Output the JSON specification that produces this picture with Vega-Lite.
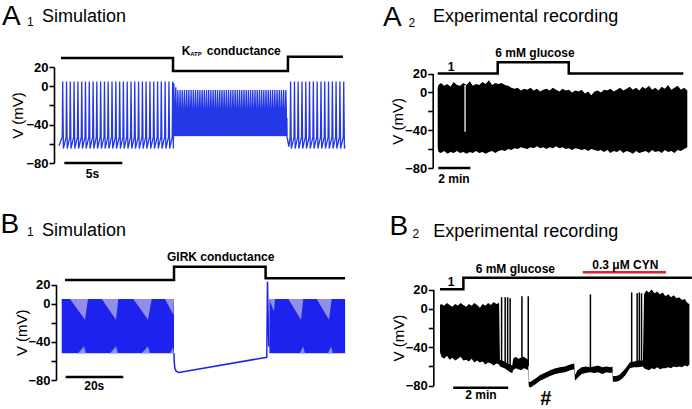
{
"$schema":"https://vega.github.io/schema/vega-lite/v6.json",
"padding":0,
"background":"white",
"spacing":0,
"bounds":"flush",
"columns":2,
"config":{"view":{"stroke":null},"font":"Liberation Sans","axis":{"domainColor":"#000","domainWidth":1.6,"tickColor":"#000","tickWidth":1.6,"tickSize":5,"labelFontSize":13,"labelFontWeight":"bold","labelColor":"#000","labelPadding":1,"titleFontSize":15,"titleFontWeight":"normal","titleColor":"#000","grid":false,"minExtent":24,"maxExtent":24}},
"datasets":{
"a1":[{"t":0,"v":-62},
{"t":0.28,"v":-53},{"t":0.32,"v":5},{"t":0.38,"v":-65},
{"t":0.61,"v":-53},{"t":0.65,"v":5},{"t":0.71,"v":-65},
{"t":0.93,"v":-53},{"t":0.97,"v":5},{"t":1.03,"v":-65},
{"t":1.26,"v":-53},{"t":1.30,"v":5},{"t":1.36,"v":-65},
{"t":1.59,"v":-53},{"t":1.63,"v":5},{"t":1.69,"v":-65},
{"t":1.92,"v":-53},{"t":1.96,"v":5},{"t":2.02,"v":-65},
{"t":2.24,"v":-53},{"t":2.28,"v":5},{"t":2.34,"v":-65},
{"t":2.57,"v":-53},{"t":2.61,"v":5},{"t":2.67,"v":-65},
{"t":2.90,"v":-53},{"t":2.94,"v":5},{"t":3.00,"v":-65},
{"t":3.22,"v":-53},{"t":3.26,"v":5},{"t":3.32,"v":-65},
{"t":3.55,"v":-53},{"t":3.59,"v":5},{"t":3.65,"v":-65},
{"t":3.88,"v":-53},{"t":3.92,"v":5},{"t":3.98,"v":-65},
{"t":4.20,"v":-53},{"t":4.24,"v":5},{"t":4.30,"v":-65},
{"t":4.53,"v":-53},{"t":4.57,"v":5},{"t":4.63,"v":-65},
{"t":4.86,"v":-53},{"t":4.90,"v":5},{"t":4.96,"v":-65},
{"t":5.19,"v":-53},{"t":5.23,"v":5},{"t":5.29,"v":-65},
{"t":5.51,"v":-53},{"t":5.55,"v":5},{"t":5.61,"v":-65},
{"t":5.84,"v":-53},{"t":5.88,"v":5},{"t":5.94,"v":-65},
{"t":6.17,"v":-53},{"t":6.21,"v":5},{"t":6.27,"v":-65},
{"t":6.49,"v":-53},{"t":6.53,"v":5},{"t":6.59,"v":-65},
{"t":6.82,"v":-53},{"t":6.86,"v":5},{"t":6.92,"v":-65},
{"t":7.15,"v":-53},{"t":7.19,"v":5},{"t":7.25,"v":-65},
{"t":7.47,"v":-53},{"t":7.51,"v":5},{"t":7.57,"v":-65},
{"t":7.80,"v":-53},{"t":7.84,"v":5},{"t":7.90,"v":-65},
{"t":8.13,"v":-53},{"t":8.17,"v":5},{"t":8.23,"v":-65},
{"t":8.46,"v":-53},{"t":8.50,"v":5},{"t":8.56,"v":-65},
{"t":8.78,"v":-53},{"t":8.82,"v":5},{"t":8.88,"v":-65},
{"t":9.11,"v":-53},{"t":9.15,"v":5},{"t":9.21,"v":-65},
{"t":9.44,"v":-53},{"t":9.48,"v":5},{"t":9.54,"v":-65},
{"t":9.76,"v":-53},{"t":9.80,"v":5},{"t":9.86,"v":-65},
{"t":9.90,"v":3},{"t":9.98,"v":-52},{"t":10.07,"v":-1},{"t":10.16,"v":-52},
{"t":10.25,"v":-4},{"t":10.34,"v":-52},{"t":10.44,"v":-4},{"t":10.53,"v":-52},{"t":10.63,"v":-4},{"t":10.72,"v":-52},{"t":10.82,"v":-4},{"t":10.91,"v":-52},{"t":11.01,"v":-4},{"t":11.10,"v":-52},{"t":11.20,"v":-4},{"t":11.29,"v":-52},{"t":11.39,"v":-4},{"t":11.48,"v":-52},{"t":11.58,"v":-4},{"t":11.67,"v":-52},{"t":11.77,"v":-4},{"t":11.86,"v":-52},{"t":11.96,"v":-4},{"t":12.05,"v":-52},{"t":12.15,"v":-4},{"t":12.24,"v":-52},{"t":12.34,"v":-4},{"t":12.43,"v":-52},{"t":12.53,"v":-4},{"t":12.62,"v":-52},{"t":12.72,"v":-4},{"t":12.81,"v":-52},{"t":12.91,"v":-4},{"t":13.00,"v":-52},{"t":13.10,"v":-4},{"t":13.19,"v":-52},{"t":13.29,"v":-4},{"t":13.38,"v":-52},{"t":13.48,"v":-4},{"t":13.57,"v":-52},{"t":13.67,"v":-4},{"t":13.76,"v":-52},{"t":13.86,"v":-4},{"t":13.95,"v":-52},{"t":14.05,"v":-4},{"t":14.14,"v":-52},{"t":14.24,"v":-4},{"t":14.33,"v":-52},{"t":14.43,"v":-4},{"t":14.52,"v":-52},{"t":14.62,"v":-4},{"t":14.71,"v":-52},{"t":14.81,"v":-4},{"t":14.90,"v":-52},{"t":15.00,"v":-4},{"t":15.09,"v":-52},{"t":15.19,"v":-4},{"t":15.28,"v":-52},{"t":15.38,"v":-4},{"t":15.47,"v":-52},{"t":15.57,"v":-4},{"t":15.66,"v":-52},{"t":15.76,"v":-4},{"t":15.85,"v":-52},{"t":15.95,"v":-4},{"t":16.04,"v":-52},{"t":16.14,"v":-4},{"t":16.23,"v":-52},{"t":16.33,"v":-4},{"t":16.42,"v":-52},{"t":16.52,"v":-4},{"t":16.61,"v":-52},{"t":16.71,"v":-4},{"t":16.80,"v":-52},{"t":16.90,"v":-4},{"t":16.99,"v":-52},{"t":17.09,"v":-4},{"t":17.18,"v":-52},{"t":17.28,"v":-4},{"t":17.37,"v":-52},{"t":17.47,"v":-4},{"t":17.56,"v":-52},{"t":17.66,"v":-4},{"t":17.75,"v":-52},{"t":17.85,"v":-4},{"t":17.94,"v":-52},{"t":18.04,"v":-4},{"t":18.13,"v":-52},{"t":18.23,"v":-4},{"t":18.32,"v":-52},{"t":18.42,"v":-4},{"t":18.51,"v":-52},{"t":18.61,"v":-4},{"t":18.70,"v":-52},{"t":18.80,"v":-4},{"t":18.89,"v":-52},{"t":18.99,"v":-4},{"t":19.08,"v":-52},{"t":19.18,"v":-4},{"t":19.27,"v":-52},{"t":19.37,"v":-4},{"t":19.46,"v":-52},{"t":19.56,"v":-4},{"t":19.65,"v":-52},
{"t":19.82,"v":-63},
{"t":19.93,"v":-53},{"t":19.97,"v":5},{"t":20.03,"v":-65},
{"t":20.26,"v":-53},{"t":20.30,"v":5},{"t":20.36,"v":-65},
{"t":20.58,"v":-53},{"t":20.62,"v":5},{"t":20.68,"v":-65},
{"t":20.91,"v":-53},{"t":20.95,"v":5},{"t":21.01,"v":-65},
{"t":21.24,"v":-53},{"t":21.28,"v":5},{"t":21.34,"v":-65},
{"t":21.56,"v":-53},{"t":21.60,"v":5},{"t":21.66,"v":-65},
{"t":21.89,"v":-53},{"t":21.93,"v":5},{"t":21.99,"v":-65},
{"t":22.22,"v":-53},{"t":22.26,"v":5},{"t":22.32,"v":-65},
{"t":22.55,"v":-53},{"t":22.59,"v":5},{"t":22.65,"v":-65},
{"t":22.87,"v":-53},{"t":22.91,"v":5},{"t":22.97,"v":-65},
{"t":23.20,"v":-53},{"t":23.24,"v":5},{"t":23.30,"v":-65},
{"t":23.53,"v":-53},{"t":23.57,"v":5},{"t":23.63,"v":-65},
{"t":23.85,"v":-53},{"t":23.89,"v":5},{"t":23.95,"v":-65},
{"t":24.18,"v":-53},{"t":24.22,"v":5},{"t":24.28,"v":-65},
{"t":24.51,"v":-53},{"t":24.55,"v":5},{"t":24.61,"v":-65},
{"t":24.66,"v":-62}],
"a2":[{"t":0.0,"v":5,"lo":-58},{"t":0.05,"v":8,"lo":-63},{"t":0.2,"v":10,"lo":-64},{"t":0.4,"v":7,"lo":-62},{"t":0.6,"v":9,"lo":-65},{"t":0.8,"v":6,"lo":-63},{"t":1.0,"v":11,"lo":-64},{"t":1.2,"v":8,"lo":-62},{"t":1.4,"v":7,"lo":-64},{"t":1.6,"v":10,"lo":-63},{"t":1.8,"v":8,"lo":-65},{"t":2.0,"v":12,"lo":-63},{"t":2.2,"v":7,"lo":-64},{"t":2.4,"v":9,"lo":-62},{"t":2.6,"v":8,"lo":-64},{"t":2.8,"v":11,"lo":-63},{"t":3.0,"v":9,"lo":-65},{"t":3.2,"v":13,"lo":-63},{"t":3.4,"v":8,"lo":-62},{"t":3.6,"v":10,"lo":-64},{"t":3.8,"v":9,"lo":-62},{"t":4.0,"v":10,"lo":-61},{"t":4.2,"v":8,"lo":-62},{"t":4.4,"v":7,"lo":-60},{"t":4.6,"v":5,"lo":-61},{"t":4.8,"v":4,"lo":-59},{"t":5.0,"v":5,"lo":-60},{"t":5.2,"v":2,"lo":-58},{"t":5.4,"v":4,"lo":-59},{"t":5.6,"v":3,"lo":-60},{"t":5.8,"v":5,"lo":-58},{"t":6.0,"v":2,"lo":-59},{"t":6.2,"v":4,"lo":-57},{"t":6.4,"v":1,"lo":-59},{"t":6.6,"v":3,"lo":-58},{"t":6.8,"v":4,"lo":-60},{"t":7.0,"v":2,"lo":-58},{"t":7.2,"v":5,"lo":-59},{"t":7.4,"v":3,"lo":-57},{"t":7.6,"v":1,"lo":-59},{"t":7.8,"v":4,"lo":-58},{"t":8.0,"v":2,"lo":-60},{"t":8.2,"v":3,"lo":-59},{"t":8.4,"v":0,"lo":-61},{"t":8.6,"v":2,"lo":-59},{"t":8.8,"v":1,"lo":-60},{"t":9.0,"v":3,"lo":-61},{"t":9.2,"v":-1,"lo":-60},{"t":9.4,"v":1,"lo":-62},{"t":9.6,"v":-3,"lo":-60},{"t":9.8,"v":1,"lo":-61},{"t":10.0,"v":2,"lo":-62},{"t":10.2,"v":0,"lo":-61},{"t":10.4,"v":3,"lo":-63},{"t":10.6,"v":2,"lo":-61},{"t":10.8,"v":4,"lo":-64},{"t":11.0,"v":1,"lo":-62},{"t":11.2,"v":3,"lo":-63},{"t":11.4,"v":5,"lo":-61},{"t":11.6,"v":2,"lo":-64},{"t":11.8,"v":4,"lo":-62},{"t":12.0,"v":6,"lo":-63},{"t":12.2,"v":3,"lo":-65},{"t":12.4,"v":5,"lo":-62},{"t":12.6,"v":2,"lo":-64},{"t":12.8,"v":6,"lo":-63},{"t":13.0,"v":4,"lo":-62},{"t":13.2,"v":7,"lo":-64},{"t":13.4,"v":3,"lo":-61},{"t":13.6,"v":5,"lo":-63},{"t":13.8,"v":2,"lo":-62},{"t":14.0,"v":6,"lo":-64},{"t":14.2,"v":4,"lo":-61},{"t":14.4,"v":8,"lo":-63},{"t":14.6,"v":3,"lo":-62},{"t":14.8,"v":5,"lo":-64},{"t":15.0,"v":7,"lo":-61},{"t":15.2,"v":3,"lo":-62},{"t":15.4,"v":5,"lo":-60},{"t":15.6,"v":2,"lo":-58}],
"b2":[{"t":0,"v":4,"lo":-45},{"t":0.05,"v":5,"lo":-50},{"t":0.15,"v":3,"lo":-52},{"t":0.25,"v":6,"lo":-49},{"t":0.35,"v":4,"lo":-53},{"t":0.45,"v":2,"lo":-51},{"t":0.55,"v":5,"lo":-54},{"t":0.65,"v":3,"lo":-52},{"t":0.75,"v":6,"lo":-50},{"t":0.85,"v":4,"lo":-54},{"t":0.95,"v":2,"lo":-53},{"t":1.05,"v":5,"lo":-55},{"t":1.15,"v":3,"lo":-52},{"t":1.25,"v":6,"lo":-56},{"t":1.35,"v":4,"lo":-54},{"t":1.45,"v":1,"lo":-56},{"t":1.55,"v":5,"lo":-55},{"t":1.65,"v":3,"lo":-58},{"t":1.75,"v":6,"lo":-56},{"t":1.85,"v":4,"lo":-57},{"t":1.95,"v":7,"lo":-59},{"t":2.05,"v":5,"lo":-57},{"t":2.15,"v":6,"lo":-58},
{"t":2.18,"v":-53,"lo":-60},{"t":2.25,"v":-54,"lo":-61},{"t":2.35,"v":-55,"lo":-62},{"t":2.45,"v":-57,"lo":-64},{"t":2.55,"v":-58,"lo":-66},{"t":2.63,"v":-59,"lo":-67},{"t":2.66,"v":-52,"lo":-64},{"t":2.75,"v":-50,"lo":-62},{"t":2.85,"v":-52,"lo":-63},{"t":2.95,"v":-51,"lo":-64},{"t":3.05,"v":-50,"lo":-62},{"t":3.15,"v":-52,"lo":-63},{"t":3.2,"v":-53,"lo":-64},
{"t":3.23,"v":-76,"lo":-81},{"t":3.3,"v":-76,"lo":-82},{"t":3.4,"v":-74,"lo":-80},{"t":3.5,"v":-72,"lo":-78},{"t":3.64,"v":-69,"lo":-75},{"t":3.8,"v":-67,"lo":-73},{"t":4.0,"v":-64,"lo":-70},{"t":4.2,"v":-62,"lo":-68},{"t":4.36,"v":-61,"lo":-67},{"t":4.55,"v":-60,"lo":-66},{"t":4.73,"v":-58,"lo":-64},{"t":4.88,"v":-57,"lo":-63},
{"t":4.91,"v":-69,"lo":-75},{"t":5.0,"v":-64,"lo":-72},{"t":5.15,"v":-61,"lo":-68},{"t":5.3,"v":-60,"lo":-67},{"t":5.45,"v":-61,"lo":-66},{"t":5.6,"v":-60,"lo":-67},{"t":5.75,"v":-59,"lo":-66},{"t":5.9,"v":-61,"lo":-68},{"t":6.05,"v":-60,"lo":-66},{"t":6.2,"v":-61,"lo":-67},{"t":6.27,"v":-60,"lo":-66},
{"t":6.29,"v":-70,"lo":-76},{"t":6.4,"v":-70,"lo":-76},{"t":6.52,"v":-69,"lo":-75},{"t":6.62,"v":-66,"lo":-73},{"t":6.75,"v":-62,"lo":-69},{"t":6.9,"v":-56,"lo":-62},{"t":7.05,"v":-55,"lo":-61},{"t":7.2,"v":-54,"lo":-61},{"t":7.38,"v":-54,"lo":-60},
{"t":7.42,"v":15,"lo":-62},{"t":7.5,"v":19,"lo":-63},{"t":7.6,"v":17,"lo":-64},{"t":7.7,"v":20,"lo":-62},{"t":7.8,"v":16,"lo":-63},{"t":7.9,"v":18,"lo":-61},{"t":8.0,"v":15,"lo":-63},{"t":8.1,"v":17,"lo":-62},{"t":8.2,"v":13,"lo":-62},{"t":8.3,"v":15,"lo":-61},{"t":8.4,"v":12,"lo":-62},{"t":8.5,"v":14,"lo":-60},{"t":8.6,"v":11,"lo":-61},{"t":8.7,"v":12,"lo":-60},{"t":8.8,"v":9,"lo":-61},{"t":8.9,"v":10,"lo":-59},{"t":9.0,"v":6,"lo":-60},{"t":9.07,"v":5,"lo":-58}],
"b2spikes":[{"t":2.24,"v":12,"lo":-55},{"t":2.37,"v":12,"lo":-57},{"t":2.46,"v":12,"lo":-58},{"t":2.55,"v":11,"lo":-60},{"t":2.98,"v":13,"lo":-55},{"t":3.21,"v":13,"lo":-60},{"t":5.47,"v":15,"lo":-62},{"t":6.97,"v":17,"lo":-57},{"t":7.17,"v":16,"lo":-57},{"t":7.25,"v":17,"lo":-57},{"t":7.33,"v":16,"lo":-56}]
},
"concat":[
{"width":346,"height":200,
"encoding":{
"x":{"field":"t","type":"quantitative","scale":{"domain":[0,24.66],"range":[59,345],"nice":false,"zero":false},"axis":null},
"y":{"field":"v","type":"quantitative","scale":{"domain":[-80,20],"range":[163,67],"nice":false,"zero":false},"axis":{"title":"V (mV)","values":[20,0,-20,-40,-60,-80],"labelExpr":"datum.value == -20 || datum.value == -60 ? '' : datum.label","offset":-54,"titlePadding":5}}},
"layer":[
{"data":{"values":[{"t":9.9,"v":-33,"lo":-52},{"t":19.7,"v":-33,"lo":-52}]},"mark":{"type":"area","color":"#2a3ae6","opacity":1},"encoding":{"y2":{"field":"lo"}}},
{"data":{"name":"a1"},"mark":{"type":"line","color":"#2438e8","strokeWidth":1.3}},
{"data":{"values":[{"t":0.17,"v":29.4},{"t":9.83,"v":29.4},{"t":9.831,"v":15.8},{"t":19.74,"v":15.8},{"t":19.741,"v":30.6},{"t":24.48,"v":30.6}]},"mark":{"type":"line","color":"#000","strokeWidth":2.5}},
{"data":{"values":[{"t":0.46,"t2":5.46,"v":-80}]},"mark":{"type":"rule","color":"#000","strokeWidth":2.5},"encoding":{"x2":{"field":"t2"}}},
{"data":{"values":[{"t":-4.91,"v":63.3,"s":"A"}]},"mark":{"type":"text","align":"left","baseline":"alphabetic","fontSize":28,"color":"#000"},"encoding":{"text":{"field":"s"}}},
{"data":{"values":[{"t":-2.76,"v":62.2,"s":"1"}]},"mark":{"type":"text","align":"left","baseline":"alphabetic","fontSize":12,"color":"#000"},"encoding":{"text":{"field":"s"}}},
{"data":{"values":[{"t":-1.47,"v":67.2,"s":"Simulation"}]},"mark":{"type":"text","align":"left","baseline":"alphabetic","fontSize":18,"color":"#000"},"encoding":{"text":{"field":"s"}}},
{"data":{"values":[{"t":10.95,"v":32.5,"s":"K"},{"t":15.93,"v":32.5,"s":"conductance"},{"t":2.89,"v":-95.6,"s":"5s"}]},"mark":{"type":"text","align":"center","baseline":"alphabetic","fontSize":12,"fontWeight":"bold","color":"#000"},"encoding":{"text":{"field":"s"}}},
{"data":{"values":[{"t":11.81,"v":31.9,"s":"ATP"}]},"mark":{"type":"text","align":"center","baseline":"alphabetic","fontSize":6,"fontWeight":"bold","color":"#000"},"encoding":{"text":{"field":"s"}}}
]},
{"width":346,"height":200,
"encoding":{
"x":{"field":"t","type":"quantitative","scale":{"domain":[0,15.6],"range":[91.7,341.3],"nice":false,"zero":false},"axis":null},
"y":{"field":"v","type":"quantitative","scale":{"domain":[-80,20],"range":[168,73.6],"nice":false,"zero":false},"axis":{"title":"V (mV)","values":[20,0,-20,-40,-60,-80],"labelExpr":"datum.value == -20 || datum.value == -60 ? '' : datum.label","offset":-86.7,"titlePadding":3}}},
"layer":[
{"data":{"name":"a2"},"mark":{"type":"area","color":"#000","opacity":1},"encoding":{"y2":{"field":"lo"}}},
{"data":{"values":[{"t":1.71,"v":8,"lo":-41.5}]},"mark":{"type":"rule","color":"#fff","strokeWidth":1.3},"encoding":{"y2":{"field":"lo"}}},
{"data":{"values":[{"t":0,"v":20},{"t":3.75,"v":20},{"t":3.751,"v":32},{"t":8.19,"v":32},{"t":8.191,"v":20},{"t":15.35,"v":20}]},"mark":{"type":"line","color":"#000","strokeWidth":2.5}},
{"data":{"values":[{"t":0.04,"t2":2.04,"v":-80}]},"mark":{"type":"rule","color":"#000","strokeWidth":2.5},"encoding":{"x2":{"field":"t2"}}},
{"data":{"values":[{"t":-3.42,"v":70.4,"s":"A"}]},"mark":{"type":"text","align":"left","baseline":"alphabetic","fontSize":28,"color":"#000"},"encoding":{"text":{"field":"s"}}},
{"data":{"values":[{"t":-1.83,"v":68.9,"s":"2"}]},"mark":{"type":"text","align":"left","baseline":"alphabetic","fontSize":12,"color":"#000"},"encoding":{"text":{"field":"s"}}},
{"data":{"values":[{"t":-0.29,"v":74.2,"s":"Experimental recording"}]},"mark":{"type":"text","align":"left","baseline":"alphabetic","fontSize":18,"color":"#000"},"encoding":{"text":{"field":"s"}}},
{"data":{"values":[{"t":0.83,"v":23.1,"s":"1"},{"t":6.08,"v":37.3,"s":"6 mM glucose"},{"t":1.02,"v":-95.6,"s":"2 min"}]},"mark":{"type":"text","align":"center","baseline":"alphabetic","fontSize":12,"fontWeight":"bold","color":"#000"},"encoding":{"text":{"field":"s"}}}
]},
{"width":346,"height":209,
"encoding":{
"x":{"field":"t","type":"quantitative","scale":{"domain":[0,98.4],"range":[61.7,345.1],"nice":false,"zero":false},"axis":null},
"y":{"field":"v","type":"quantitative","scale":{"domain":[-80,20],"range":[180,84.5],"nice":false,"zero":false},"axis":{"title":"V (mV)","values":[20,0,-20,-40,-60,-80],"labelExpr":"datum.value == -20 || datum.value == -60 ? '' : datum.label","offset":-56,"titlePadding":3}}},
"layer":[
{"data":{"values":[{"seg":1,"t":0,"v":4.8,"lo":-52},{"seg":1,"t":39.0,"v":4.8,"lo":-52},{"seg":2,"t":72.1,"v":4.8,"lo":-52},{"seg":2,"t":98.4,"v":4.8,"lo":-52}]},"mark":{"type":"area","color":"#1e22ee","opacity":1},"encoding":{"y2":{"field":"lo"},"detail":{"field":"seg"}}},
{"data":{"values":[
{"id":1,"t":2.88,"v":4.8,"lo":4.8},{"id":1,"t":8.09,"v":4.8,"lo":-17},{"id":1,"t":9.13,"v":4.8,"lo":4.8},
{"id":2,"t":13.89,"v":4.8,"lo":4.8},{"id":2,"t":18.85,"v":4.8,"lo":-17},{"id":2,"t":19.65,"v":4.8,"lo":4.8},
{"id":3,"t":24.86,"v":4.8,"lo":4.8},{"id":3,"t":29.97,"v":4.8,"lo":-17},{"id":3,"t":31.25,"v":4.8,"lo":4.8},
{"id":4,"t":35.87,"v":4.8,"lo":4.8},{"id":4,"t":38.82,"v":4.8,"lo":-12},{"id":4,"t":38.99,"v":4.8,"lo":4.8},
{"id":5,"t":71.98,"v":4.8,"lo":4.8},{"id":5,"t":73.72,"v":4.8,"lo":-8},{"id":5,"t":74.06,"v":4.8,"lo":4.8},
{"id":6,"t":78.68,"v":4.8,"lo":4.8},{"id":6,"t":83.09,"v":4.8,"lo":-17},{"id":6,"t":83.89,"v":4.8,"lo":4.8},
{"id":7,"t":88.54,"v":4.8,"lo":4.8},{"id":7,"t":92.81,"v":4.8,"lo":-17},{"id":7,"t":93.75,"v":4.8,"lo":4.8},
{"id":11,"t":5.66,"v":-52,"lo":-52},{"id":11,"t":7.74,"v":-45,"lo":-52},{"id":11,"t":8.44,"v":-52,"lo":-52},
{"id":12,"t":16.77,"v":-52,"lo":-52},{"id":12,"t":18.85,"v":-45,"lo":-52},{"id":12,"t":19.55,"v":-52,"lo":-52},
{"id":13,"t":27.78,"v":-52,"lo":-52},{"id":13,"t":29.97,"v":-45,"lo":-52},{"id":13,"t":30.66,"v":-52,"lo":-52},
{"id":14,"t":37.6,"v":-52,"lo":-52},{"id":14,"t":38.65,"v":-46,"lo":-52},{"id":14,"t":39.0,"v":-52,"lo":-52},
{"id":15,"t":82.74,"v":-52,"lo":-52},{"id":15,"t":83.78,"v":-45,"lo":-52},{"id":15,"t":84.48,"v":-52,"lo":-52},
{"id":16,"t":92.47,"v":-52,"lo":-52},{"id":16,"t":93.51,"v":-45,"lo":-52},{"id":16,"t":94.2,"v":-52,"lo":-52}
]},"mark":{"type":"area","color":"#9090ea","opacity":1},"encoding":{"y2":{"field":"lo"},"detail":{"field":"id"}}},
{"data":{"values":[{"t":39.0,"v":-52},{"t":39.05,"v":-60},{"t":39.3,"v":-68},{"t":39.8,"v":-71},{"t":40.7,"v":-72.1},{"t":71.2,"v":-56.2},{"t":71.45,"v":23},{"t":71.9,"v":-45}]},"mark":{"type":"line","color":"#1e22ee","strokeWidth":1.5}},
{"data":{"values":[{"t":1.15,"v":24.7},{"t":39.0,"v":24.7},{"t":39.001,"v":38.6},{"t":70.8,"v":38.6},{"t":70.801,"v":26.5},{"t":98.4,"v":26.5}]},"mark":{"type":"line","color":"#000","strokeWidth":2.5}},
{"data":{"values":[{"t":1.39,"t2":21.39,"v":-76.9}]},"mark":{"type":"rule","color":"#000","strokeWidth":2.5},"encoding":{"x2":{"field":"t2"}}},
{"data":{"values":[{"t":-21.25,"v":73.9,"s":"B"}]},"mark":{"type":"text","align":"left","baseline":"alphabetic","fontSize":28,"color":"#000"},"encoding":{"text":{"field":"s"}}},
{"data":{"values":[{"t":-12.05,"v":70.8,"s":"1"}]},"mark":{"type":"text","align":"left","baseline":"alphabetic","fontSize":12,"color":"#000"},"encoding":{"text":{"field":"s"}}},
{"data":{"values":[{"t":-6.84,"v":71.1,"s":"Simulation"}]},"mark":{"type":"text","align":"left","baseline":"alphabetic","fontSize":18,"color":"#000"},"encoding":{"text":{"field":"s"}}},
{"data":{"values":[{"t":55.2,"v":44.6,"s":"GIRK conductance"},{"t":11.3,"v":-90.5,"s":"20s"}]},"mark":{"type":"text","align":"center","baseline":"alphabetic","fontSize":12,"fontWeight":"bold","color":"#000"},"encoding":{"text":{"field":"s"}}}
]},
{"width":346,"height":209,
"encoding":{
"x":{"field":"t","type":"quantitative","scale":{"domain":[0,9.07],"range":[94,343.4],"nice":false,"zero":false},"axis":null},
"y":{"field":"v","type":"quantitative","scale":{"domain":[-80,20],"range":[185.6,89.5],"nice":false,"zero":false},"axis":{"title":"V (mV)","values":[20,0,-20,-40,-60,-80],"labelExpr":"datum.value == -20 || datum.value == -60 ? '' : datum.label","offset":-87.3,"titlePadding":3}}},
"layer":[
{"data":{"name":"b2"},"mark":{"type":"area","color":"#000","opacity":1},"encoding":{"y2":{"field":"lo"}}},
{"data":{"name":"b2spikes"},"mark":{"type":"rule","color":"#000","strokeWidth":1.5},"encoding":{"y2":{"field":"lo"}}},
{"data":{"values":[{"t":0,"v":20.2},{"t":0.85,"v":20.2},{"t":0.851,"v":32.3},{"t":9.16,"v":32.3}]},"mark":{"type":"line","color":"#000","strokeWidth":2.5}},
{"data":{"values":[{"t":5.19,"t2":8.22,"v":37.9}]},"mark":{"type":"rule","color":"#e3232b","strokeWidth":2.5},"encoding":{"x2":{"field":"t2"}}},
{"data":{"values":[{"t":0.48,"t2":2.48,"v":-82.2}]},"mark":{"type":"rule","color":"#000","strokeWidth":2.5},"encoding":{"x2":{"field":"t2"}}},
{"data":{"values":[{"t":-1.84,"v":76.7,"s":"B"}]},"mark":{"type":"text","align":"left","baseline":"alphabetic","fontSize":28,"color":"#000"},"encoding":{"text":{"field":"s"}}},
{"data":{"values":[{"t":-1.0,"v":74.1,"s":"2"}]},"mark":{"type":"text","align":"left","baseline":"alphabetic","fontSize":12,"color":"#000"},"encoding":{"text":{"field":"s"}}},
{"data":{"values":[{"t":-0.25,"v":74.9,"s":"Experimental recording"}]},"mark":{"type":"text","align":"left","baseline":"alphabetic","fontSize":18,"color":"#000"},"encoding":{"text":{"field":"s"}}},
{"data":{"values":[{"t":0.4,"v":23.6,"s":"1"},{"t":2.74,"v":37.5,"s":"6 mM glucose"},{"t":6.74,"v":41.3,"s":"0.3 μM CYN"},{"t":1.49,"v":-94,"s":"2 min"}]},"mark":{"type":"text","align":"center","baseline":"alphabetic","fontSize":12,"fontWeight":"bold","color":"#000"},"encoding":{"text":{"field":"s"}}},
{"data":{"values":[{"t":3.85,"v":-99.8,"s":"#"}]},"mark":{"type":"text","align":"center","baseline":"alphabetic","fontSize":20,"fontWeight":"bold","color":"#000"},"encoding":{"text":{"field":"s"}}}
]}
]
}
